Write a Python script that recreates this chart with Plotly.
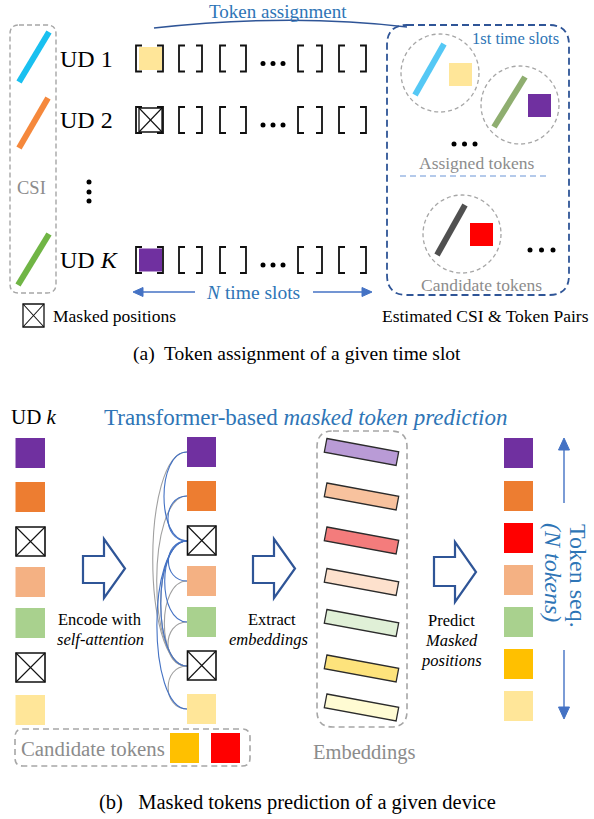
import math
import plotly.graph_objects as go

W, H = 594, 819
SERIF = "Liberation Serif"
BLUE_TXT = "#2e75b6"
GRAY_TXT = "#8c8c8c"
ARROW_BLUE = "#4472c4"
DARK_BLUE = "#2f5597"
GRAY_LINE = "#a6a6a6"

# ---------------- data: part (a) ----------------
ud_labels = ["UD 1", "UD 2", "UD <i>K</i>"]
csi_colors = ["#19c0f0", "#f5883c", "#70b545"]
first_slot_tokens = ["#ffe699", "mask", "#7030a0"]
assigned_pairs = [("#55c8f5", "#ffe699"), ("#8fae70", "#7030a0")]
candidate_pair = ("#505050", "#ff0000")

# ---------------- data: part (b) ----------------
input_seq = ["#7030a0", "#ed7d31", "mask", "#f4b183", "#a9d18e", "mask", "#ffe699"]
output_seq = ["#7030a0", "#ed7d31", "#ff0000", "#f4b183", "#a9d18e", "#ffc000", "#ffe699"]
embed_colors = ["#b99bd6", "#f8c29e", "#f47c7c", "#fde1cd", "#e0f0d7", "#fde37c", "#fffbd3"]
candidate_tokens = ["#ffc000", "#ff0000"]
blue_attn_src = 2
gray_attn_src = 5

# ---------------- layout constants ----------------
row_y = [58.5, 120, 260]
bracket_l = [136, 179, 220, 298, 339]
bracket_r = [163, 202, 246, 322, 366]
left_tops = [438, 482, 527, 567, 608, 653, 695]
mid_tops = [437, 481, 526, 566, 607, 651, 694]
right_tops = [438, 481, 523, 565, 607, 649, 691]
embed_cy = [452, 496.5, 540.5, 582, 623, 668.5, 707.5]

shapes = []
ann = []


def rect(x0, y0, x1, y1, fill, line_color=None, lw=0):
    shapes.append(dict(type="rect", x0=x0, y0=y0, x1=x1, y1=y1, fillcolor=fill,
                       line=dict(color=line_color or fill, width=lw), layer="above"))


def line(x0, y0, x1, y1, color, w=1, dash="solid"):
    shapes.append(dict(type="line", x0=x0, y0=y0, x1=x1, y1=y1,
                       line=dict(color=color, width=w, dash=dash), layer="above"))


def path(d, color, w=1, fill="rgba(0,0,0,0)", dash="solid"):
    shapes.append(dict(type="path", path=d, fillcolor=fill,
                       line=dict(color=color, width=w, dash=dash), layer="above"))


def cross_box(x0, y0, x1, y1, w=1.6):
    rect(x0, y0, x1, y1, "white", "#111111", w)
    line(x0, y0, x1, y1, "#111111", 1.1)
    line(x0, y1, x1, y0, "#111111", 1.1)


def rrect(x0, y0, x1, y1, r):
    return (f"M {x0+r},{y0} L {x1-r},{y0} Q {x1},{y0} {x1},{y0+r} "
            f"L {x1},{y1-r} Q {x1},{y1} {x1-r},{y1} L {x0+r},{y1} "
            f"Q {x0},{y1} {x0},{y1-r} L {x0},{y0+r} Q {x0},{y0} {x0+r},{y0} Z")


def arrow(x0, y0, x1, y1, color, w=1.3, hl=10, hw=4.5):
    dx, dy = x1 - x0, y1 - y0
    L = math.hypot(dx, dy)
    ux, uy = dx / L, dy / L
    bx, by = x1 - ux * hl, y1 - uy * hl
    line(x0, y0, bx, by, color, w)
    px, py = -uy, ux
    path(f"M {x1},{y1} L {bx+px*hw},{by+py*hw} L {bx-px*hw},{by-py*hw} Z",
         color, 1, fill=color)


def block_arrow(x0, hx, tip, sy0, sy1, hy0, hy1):
    cy = (hy0 + hy1) / 2
    path(f"M {x0},{sy0} L {hx},{sy0} L {hx},{hy0} L {tip},{cy} L {hx},{hy1} "
         f"L {hx},{sy1} L {x0},{sy1} Z", DARK_BLUE, 2.2, fill="white")


def text(x, y, s, size, color="black", xanchor="center", angle=0, family=SERIF):
    ann.append(dict(x=x, y=y, xref="x", yref="y", text=s, showarrow=False,
                    xanchor=xanchor, yanchor="middle", textangle=angle,
                    font=dict(family=family, size=size, color=color)))


# ================= PART (a) =================
path(rrect(10, 25, 56, 293, 9), GRAY_LINE, 1.4, dash="5px,3px")
csi_segments = [((19, 82), (49, 32)), ((19, 148), (48, 98)), ((18, 285), (49, 234))]
for (p0, p1), c in zip(csi_segments, csi_colors):
    line(p0[0], p0[1], p1[0], p1[1], c, 6)
text(31, 188, "CSI", 18.5, GRAY_TXT)

for lab, y in zip(ud_labels, row_y):
    text(58, y, lab, 24, xanchor="left")
    for xl, xr in zip(bracket_l, bracket_r):
        path(f"M {xl+6},{y-13} L {xl},{y-13} L {xl},{y+13} L {xl+6},{y+13}", "#111111", 1.8)
        path(f"M {xr-6},{y-13} L {xr},{y-13} L {xr},{y+13} L {xr-6},{y+13}", "#111111", 1.8)

for tok, y in zip(first_slot_tokens, row_y):
    if tok == "mask":
        cross_box(139, y - 12, 162, y + 12, 1.3)
    else:
        rect(139, y - 11.5, 162, y + 11.5, tok)

path("M 154,28 Q 290,13 407,27", DARK_BLUE, 1.6)
text(278, 11, "Token assignment", 19, BLUE_TXT)

arrow(195, 292, 133, 292, ARROW_BLUE, 1.3, 10, 4.5)
arrow(313, 292, 372, 292, ARROW_BLUE, 1.3, 10, 4.5)
text(253, 292, "<i>N</i> time slots", 19.5, BLUE_TXT)

cross_box(23, 304, 44, 327, 1.3)
text(51, 316, "Masked positions", 17.5, xanchor="left")

path(rrect(387, 25, 569, 295, 20), DARK_BLUE, 1.8, dash="7px,4px")
text(561, 38, "1st time slots", 16.5, BLUE_TXT, xanchor="right")

circles = [(440, 73), (520, 105)]
csi_in_circle = [((415, 95), (444, 44)), ((494, 127), (525, 77))]
sq_in_circle = [(449, 63), (528, 94)]
for (cx, cy), (p0, p1), (sx, sy), (lc, tc) in zip(circles, csi_in_circle, sq_in_circle, assigned_pairs):
    shapes.append(dict(type="circle", x0=cx - 39, y0=cy - 39, x1=cx + 39, y1=cy + 39,
                       line=dict(color=GRAY_LINE, width=1.3, dash="4px,3px"), layer="above"))
    line(p0[0], p0[1], p1[0], p1[1], lc, 6)
    rect(sx, sy, sx + 23, sy + 23, tc)

text(476, 163, "Assigned tokens", 17.5, GRAY_TXT)
line(400, 176, 550, 176, "#6a96d8", 1.2, dash="6px,4px")

shapes.append(dict(type="circle", x0=423, y0=195, x1=501, y1=273,
                   line=dict(color=GRAY_LINE, width=1.3, dash="4px,3px"), layer="above"))
line(437, 255, 465, 205, candidate_pair[0], 6)
rect(470, 223, 493, 246, candidate_pair[1])
text(481, 285, "Candidate tokens", 17.5, GRAY_TXT)
text(485, 316, "Estimated CSI &amp; Token Pairs", 17.5)

text(297, 354, "(a)&nbsp; Token assignment of a given time slot", 19.5)

dot_x = [263, 273, 283] * 3 + [454, 464.5, 475] + [530, 541.5, 553] + [89, 89, 89]
dot_y = ([row_y[0] + 5] * 3 + [row_y[1] + 5] * 3 + [row_y[2] + 5] * 3
         + [144] * 3 + [250] * 3 + [182, 192, 201])

# ================= PART (b) =================
text(34, 417, "UD <i>k</i>", 21)
text(305, 417, "Transformer-based <i>masked token prediction</i>", 23, BLUE_TXT)

for tok, t in zip(input_seq, left_tops):
    if tok == "mask":
        cross_box(16, t, 45, t + 29, 1.6)
    else:
        rect(15.5, t, 45, t + 30, tok)

mid_cy = [t + 15 for t in mid_tops]
ax = 187
for src, col in [(gray_attn_src, "#a0a0a0"), (blue_attn_src, ARROW_BLUE)]:
    for j in range(len(input_seq)):
        if j == src:
            continue
        y1, y2 = mid_cy[src], mid_cy[j]
        d = abs(y2 - y1)
        c = 20 + 0.12 * d
        path(f"M {ax},{y1} C {ax-c},{y1} {ax-c},{y2} {ax},{y2}", col, 1.1)

for tok, t in zip(input_seq, mid_tops):
    if tok == "mask":
        cross_box(187.5, t, 216, t + 29, 1.6)
    else:
        rect(187, t, 216, t + 30, tok)

for tok, t in zip(output_seq, right_tops):
    rect(504, t, 533, t + 30, tok)

block_arrow(83, 104, 125, 556, 583, 539, 598)
block_arrow(253, 274, 295, 556, 583, 539, 598)
block_arrow(434, 455, 476, 557, 586, 542, 602)

text(100, 619, "Encode with", 16.5)
text(100, 639, "<i>self-attention</i>", 16.5)
text(272, 619, "Extract", 16.5)
text(268, 639, "<i>embeddings</i>", 16.5)
text(451, 620, "Predict", 16.5)
text(451, 640, "<i>Masked</i>", 16.5)
text(451, 660, "<i>positions</i>", 16.5)

path(rrect(317, 431, 407, 727, 16), GRAY_LINE, 1.6, dash="6px,4px")
ang = math.radians(10.5)
Lb, Tb = 73, 14
for col, cy in zip(embed_colors, embed_cy):
    cx = 361.5
    ux, uy = math.cos(ang), math.sin(ang)
    px, py = -uy, ux
    pts = []
    for sl, st in [(-1, -1), (1, -1), (1, 1), (-1, 1)]:
        pts.append((cx + sl * ux * Lb / 2 + st * px * Tb / 2, cy + sl * uy * Lb / 2 + st * py * Tb / 2))
    d = "M " + " L ".join(f"{x:.1f},{y:.1f}" for x, y in pts) + " Z"
    path(d, "#2b2b2b", 1.3, fill=col)
text(364, 752, "Embeddings", 20.5, GRAY_TXT)

path(rrect(15, 729, 250, 766, 8), GRAY_LINE, 1.6, dash="6px,4px")
text(93, 748, "Candidate tokens", 20.8, GRAY_TXT)
for col, x0 in zip(candidate_tokens, [170, 211]):
    rect(x0, 733, x0 + 29, 763, col)

arrow(564, 503, 564, 438, ARROW_BLUE, 1.4, 12, 5.5)
arrow(564, 650, 564, 719, ARROW_BLUE, 1.4, 12, 5.5)
text(578, 576, "Token seq.", 24, BLUE_TXT, angle=90)
text(553, 572, "<i>(N tokens)</i>", 24, BLUE_TXT, angle=90)

text(297, 802, "(b)&nbsp;&nbsp; Masked tokens prediction of a given device", 20.5)

fig = go.Figure()
fig.add_trace(go.Scatter(x=dot_x, y=dot_y, mode="markers",
                         marker=dict(size=5, color="black"), hoverinfo="skip"))
fig.update_layout(
    width=W, height=H, margin=dict(l=0, r=0, t=0, b=0),
    paper_bgcolor="white", plot_bgcolor="white", showlegend=False,
    font=dict(family=SERIF),
    xaxis=dict(range=[0, W], visible=False, fixedrange=True),
    yaxis=dict(range=[H, 0], visible=False, fixedrange=True),
    shapes=shapes, annotations=ann,
)
fig.write_html("out.html", config=dict(displayModeBar=False),
               post_script="document.body.style.margin='0px';document.body.style.overflow='hidden';")
